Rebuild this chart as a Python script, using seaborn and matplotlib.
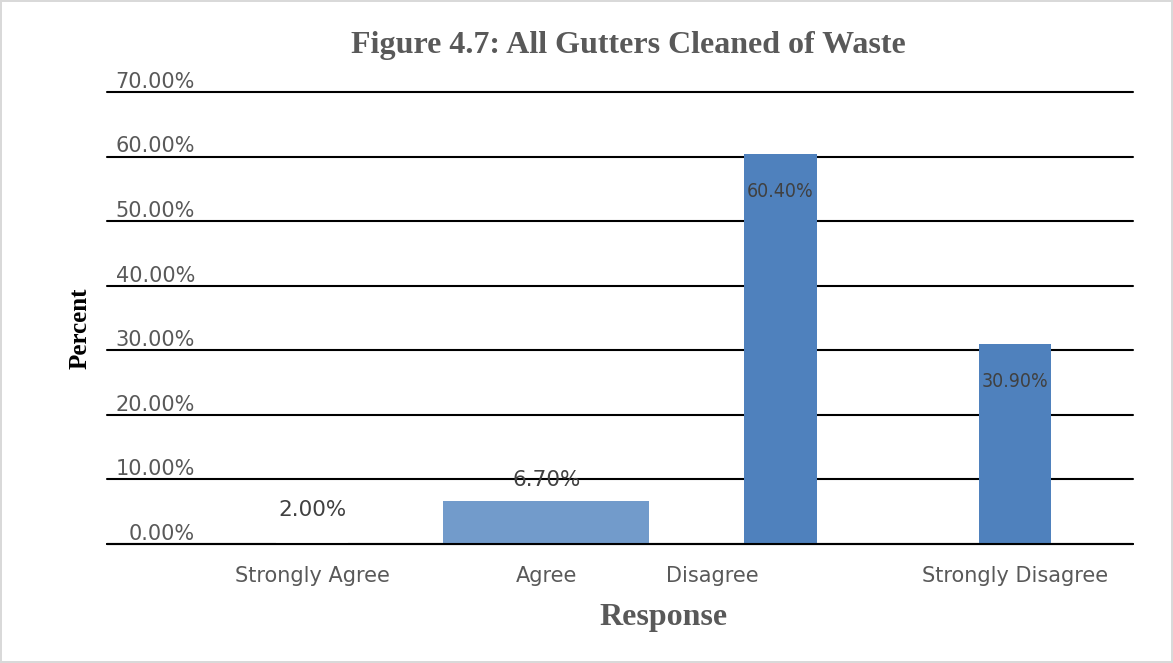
import matplotlib
matplotlib.use("Agg")
import matplotlib.pyplot as plt
import matplotlib.transforms as mtransforms
import pandas as pd
import seaborn as sns

# Survey responses: share of respondents (%)
categories = ["Strongly Agree", "Agree", "Disagree", "Strongly Disagree"]
percent = [2.00, 6.70, 60.40, 30.90]
y_ticks = [0, 10, 20, 30, 40, 50, 60, 70]

# Styling
bar_colors = ["#FFFFFF", "#729BCB", "#4F81BD", "#4F81BD"]
bar_widths = [0.31, 0.88, 0.31, 0.31]
label_inside = [False, False, True, True]
tick_shift_px = [0, 0, -68, 0]
GREY = "#595959"
SERIF = ["Liberation Serif", "DejaVu Serif"]

sns.set_theme(style="white")
plt.rcParams["font.family"] = ["DejaVu Sans"]

W, H = 1173, 663
fig = plt.figure(figsize=(W / 100, H / 100), dpi=100)
fig.patch.set_edgecolor("#D9D9D9")
fig.patch.set_linewidth(1.5)
ax = fig.add_axes([107 / W, 119 / H, 1026 / W, 452 / H])

df = pd.DataFrame({"Response": categories, "Percent": percent})
sns.barplot(data=df, x="Response", y="Percent", hue="Response",
            order=categories, hue_order=categories, palette=bar_colors,
            saturation=1, legend=False, errorbar=None, ax=ax, zorder=3)

# individual bar widths, kept centred on their category
for patch, w in zip(ax.patches, bar_widths):
    cx = patch.get_x() + patch.get_width() / 2
    patch.set_width(w)
    patch.set_x(cx - w / 2)
    patch.set_linewidth(0)

ax.set_xlim(-0.875, 3.504)
ax.set_ylim(0, 70)
ax.set_yticks(y_ticks)
ax.set_yticklabels([])
ax.yaxis.grid(True, color="black", linewidth=1.5)
ax.xaxis.grid(False)
ax.set_axisbelow(True)
for gl in ax.get_ygridlines():
    gl.set_clip_on(False)
ax.axhline(0, color="black", linewidth=1.5, zorder=4, clip_on=False)
for s in ax.spines.values():
    s.set_visible(False)
ax.tick_params(axis="both", length=0)
ax.set_xlabel("")
ax.set_ylabel("")

# y tick labels sit just above their gridlines
ytrans = mtransforms.blended_transform_factory(ax.transAxes, ax.transData)
for t in y_ticks:
    ax.annotate(f"{t:.2f}%", xy=(88 / 1026, t), xycoords=ytrans,
                xytext=(0, 3), textcoords="offset points",
                ha="right", va="baseline", fontsize=15, color=GREY)

# x tick labels
ax.set_xticks(range(len(categories)))
ax.set_xticklabels(categories, fontsize=15, color=GREY)
ax.tick_params(axis="x", pad=16)
for lbl, dx in zip(ax.get_xticklabels(), tick_shift_px):
    lbl.set_transform(lbl.get_transform() +
                      mtransforms.ScaledTranslation(dx / 100, 0, fig.dpi_scale_trans))

# value labels
for i, (v, inside) in enumerate(zip(percent, label_inside)):
    if inside:
        ax.annotate(f"{v:.2f}%", xy=(i, v), xytext=(0, -27),
                    textcoords="offset points", ha="center", va="center",
                    fontsize=14, color="#404040", fontstretch="condensed",
                    zorder=5)
    else:
        ax.annotate(f"{v:.2f}%", xy=(i, v), xytext=(0, 8),
                    textcoords="offset points", ha="center", va="bottom",
                    fontsize=15.5, color="#404040", zorder=5)

fig.text(628 / W, 1 - 45 / H, "Figure 4.7: All Gutters Cleaned of Waste",
         ha="center", va="center", fontsize=23, fontweight="bold",
         color=GREY, family=SERIF)
fig.text(663 / W, 1 - 617 / H, "Response", ha="center", va="center",
         fontsize=23, fontweight="bold", color=GREY, family=SERIF)
fig.text(80 / W, 1 - 328 / H, "Percent", ha="center", va="center",
         rotation=90, fontsize=18, fontweight="bold", color="black",
         family=SERIF)

fig.savefig("out.png", dpi=100)
